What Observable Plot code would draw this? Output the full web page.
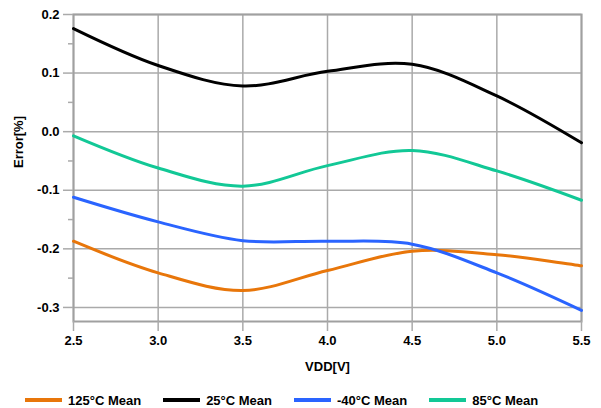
<!DOCTYPE html>
<html>
<head>
<meta charset="utf-8">
<script src="https://cdn.jsdelivr.net/npm/d3@7"></script>
<script src="https://cdn.jsdelivr.net/npm/@observablehq/plot@0.6"></script>
<style>
  html, body { margin: 0; padding: 0; background: #fff; overflow: hidden; }
  #chart svg { display: block; font-family: "Liberation Sans", Arial, sans-serif; }
  .legend { display: flex; align-items: center; height: 16px; padding-left: 25px;
    font: bold 13px "Liberation Sans", Arial, sans-serif; color: #000; }
  .legend .item { display: flex; align-items: center; margin-right: 22px; }
  .legend .sw { width: 37px; height: 4px; margin-right: 6px; }
</style>
</head>
<body>
<div id="chart"></div>
<div class="legend" id="legend"></div>
<script>
const vdd = [2.5, 3.0, 3.5, 4.0, 4.5, 5.0, 5.5];
const mean125 = [-0.187, -0.241, -0.271, -0.237, -0.204, -0.210, -0.229];
const mean25 = [0.176, 0.113, 0.078, 0.103, 0.115, 0.061, -0.019];
const meanM40 = [-0.112, -0.154, -0.186, -0.187, -0.192, -0.241, -0.305];
const mean85 = [-0.007, -0.062, -0.093, -0.058, -0.032, -0.067, -0.117];
const seriesNames = ["125°C Mean", "25°C Mean", "-40°C Mean", "85°C Mean"];
const seriesColors = ["#e8760a", "#000000", "#2a64ff", "#12c896"];
const xTicks = [2.5, 3.0, 3.5, 4.0, 4.5, 5.0, 5.5];
const yTicks = [-0.3, -0.2, -0.1, 0.0, 0.1, 0.2];
const yMinorTicks = [-0.25, -0.15, -0.05, 0.05, 0.15];

const seriesValues = [mean125, mean25, meanM40, mean85];
const rows = [];
seriesNames.forEach((name, i) => {
  vdd.forEach((v, j) => rows.push({series: name, vdd: v, error: seriesValues[i][j]}));
});

const grid = "#aaaaaa";
const chart = Plot.plot({
  width: 601,
  height: 392,
  marginLeft: 73,
  marginRight: 20,
  marginTop: 14,
  marginBottom: 71,
  style: {fontSize: "13px", fontWeight: "bold", fontFamily: "'Liberation Sans', Arial, sans-serif"},
  x: {domain: [2.5, 5.5]},
  y: {domain: [-0.324, 0.2]},
  color: {domain: seriesNames, range: seriesColors},
  marks: [
    Plot.ruleX(xTicks, {stroke: grid, strokeWidth: 1.5}),
    Plot.ruleY(yTicks, {stroke: grid, strokeWidth: 1.5}),
    Plot.frame({stroke: "#a0a0a0", strokeWidth: 2}),
    Plot.axisX(xTicks, {tickSize: 10, tickPadding: 4, stroke: grid, strokeWidth: 1.5, fill: "#000", tickFormat: d => d.toFixed(1), label: null}),
    Plot.axisY(yTicks, {tickSize: 10, tickPadding: 4, stroke: grid, strokeWidth: 1.5, fill: "#000", tickFormat: d => d.toFixed(1), label: null}),
    Plot.axisY(yMinorTicks, {tickSize: 5, stroke: grid, strokeWidth: 1.5, text: null, label: null}),
    Plot.line(rows, {x: "vdd", y: "error", stroke: "series", z: "series", strokeWidth: 3, curve: "catmull-rom"}),
    Plot.text(["VDD[V]"], {frameAnchor: "bottom", dy: 49, text: d => d, fill: "#000"}),
    Plot.text(["Error[%]"], {frameAnchor: "left", dx: -55, rotate: -90, text: d => d, fill: "#000"})
  ]
});
document.getElementById("chart").appendChild(chart);

const legend = document.getElementById("legend");
seriesNames.forEach((name, i) => {
  const item = document.createElement("div");
  item.className = "item";
  const sw = document.createElement("div");
  sw.className = "sw";
  sw.style.background = seriesColors[i];
  const t = document.createElement("span");
  t.textContent = name;
  item.appendChild(sw);
  item.appendChild(t);
  legend.appendChild(item);
});
</script>
</body>
</html>
